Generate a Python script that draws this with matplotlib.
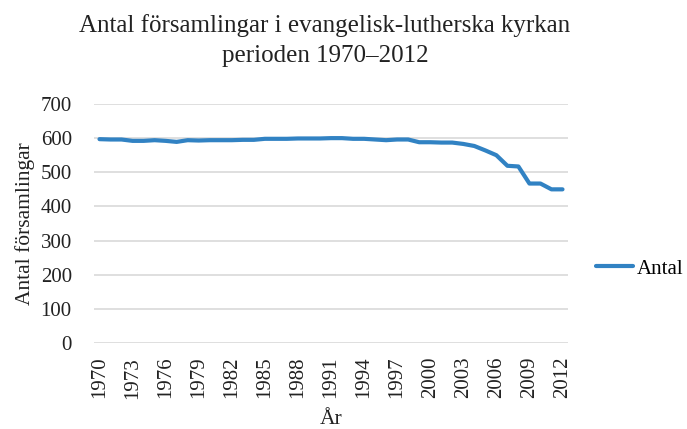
import matplotlib
matplotlib.use("Agg")
import matplotlib.pyplot as plt

years = list(range(1970, 2013))
antal = [597, 596, 596, 592, 592, 594, 592, 589, 594, 593,
         594, 594, 594, 595, 595, 598, 598, 598, 599, 599,
         599, 600, 600, 598, 598, 596, 594, 596, 596, 588,
         588, 587, 587, 583, 577, 564, 550, 519, 517, 467,
         467, 450, 450]
yticks = [0, 100, 200, 300, 400, 500, 600, 700]
xticks = list(range(1970, 2013, 3))

title = "Antal församlingar i evangelisk-lutherska kyrkan\nperioden 1970\u20132012"

plt.rcParams['font.family'] = ['Liberation Serif', 'DejaVu Serif']

fig = plt.figure(figsize=(6.87, 4.29), dpi=100)
ax = fig.add_axes([0.1368, 0.2005, 0.69, 0.5571])

ax.plot(years, antal, color='#3182C3', linewidth=3, label='Antal',
        solid_capstyle='round', solid_joinstyle='round', zorder=3)

ax.set_xlim(1969.5, 2012.5)
ax.set_ylim(0, 700)
ax.set_yticks(yticks)
ax.set_xticks(xticks)
ax.set_xticklabels([str(x) for x in xticks], rotation=90, fontsize=15)
ax.set_yticklabels([str(y) for y in yticks], fontsize=15)
ax.tick_params(axis='y', length=0, pad=16, colors='#222222')
ax.tick_params(axis='x', length=0, pad=10, colors='#222222')
ax.grid(axis='y', color='#D9D9D9', linewidth=1.2)
ax.set_axisbelow(True)
for s in ax.spines.values():
    s.set_visible(False)

ax.set_xlabel('År', fontsize=15.5, color='#222222', labelpad=8)
ax.set_ylabel('Antal församlingar', fontsize=15.5, color='#222222', labelpad=4)
fig.suptitle(title, fontsize=18, color='#222222', x=0.473, y=0.968, linespacing=1.5)

leg = ax.legend(loc='center left', bbox_to_anchor=(1.05, 0.31), frameon=False,
                fontsize=15, handlelength=1.8, handletextpad=0.15,
                borderpad=0.2, borderaxespad=0.0)

fig.savefig('out.png', dpi=100)
